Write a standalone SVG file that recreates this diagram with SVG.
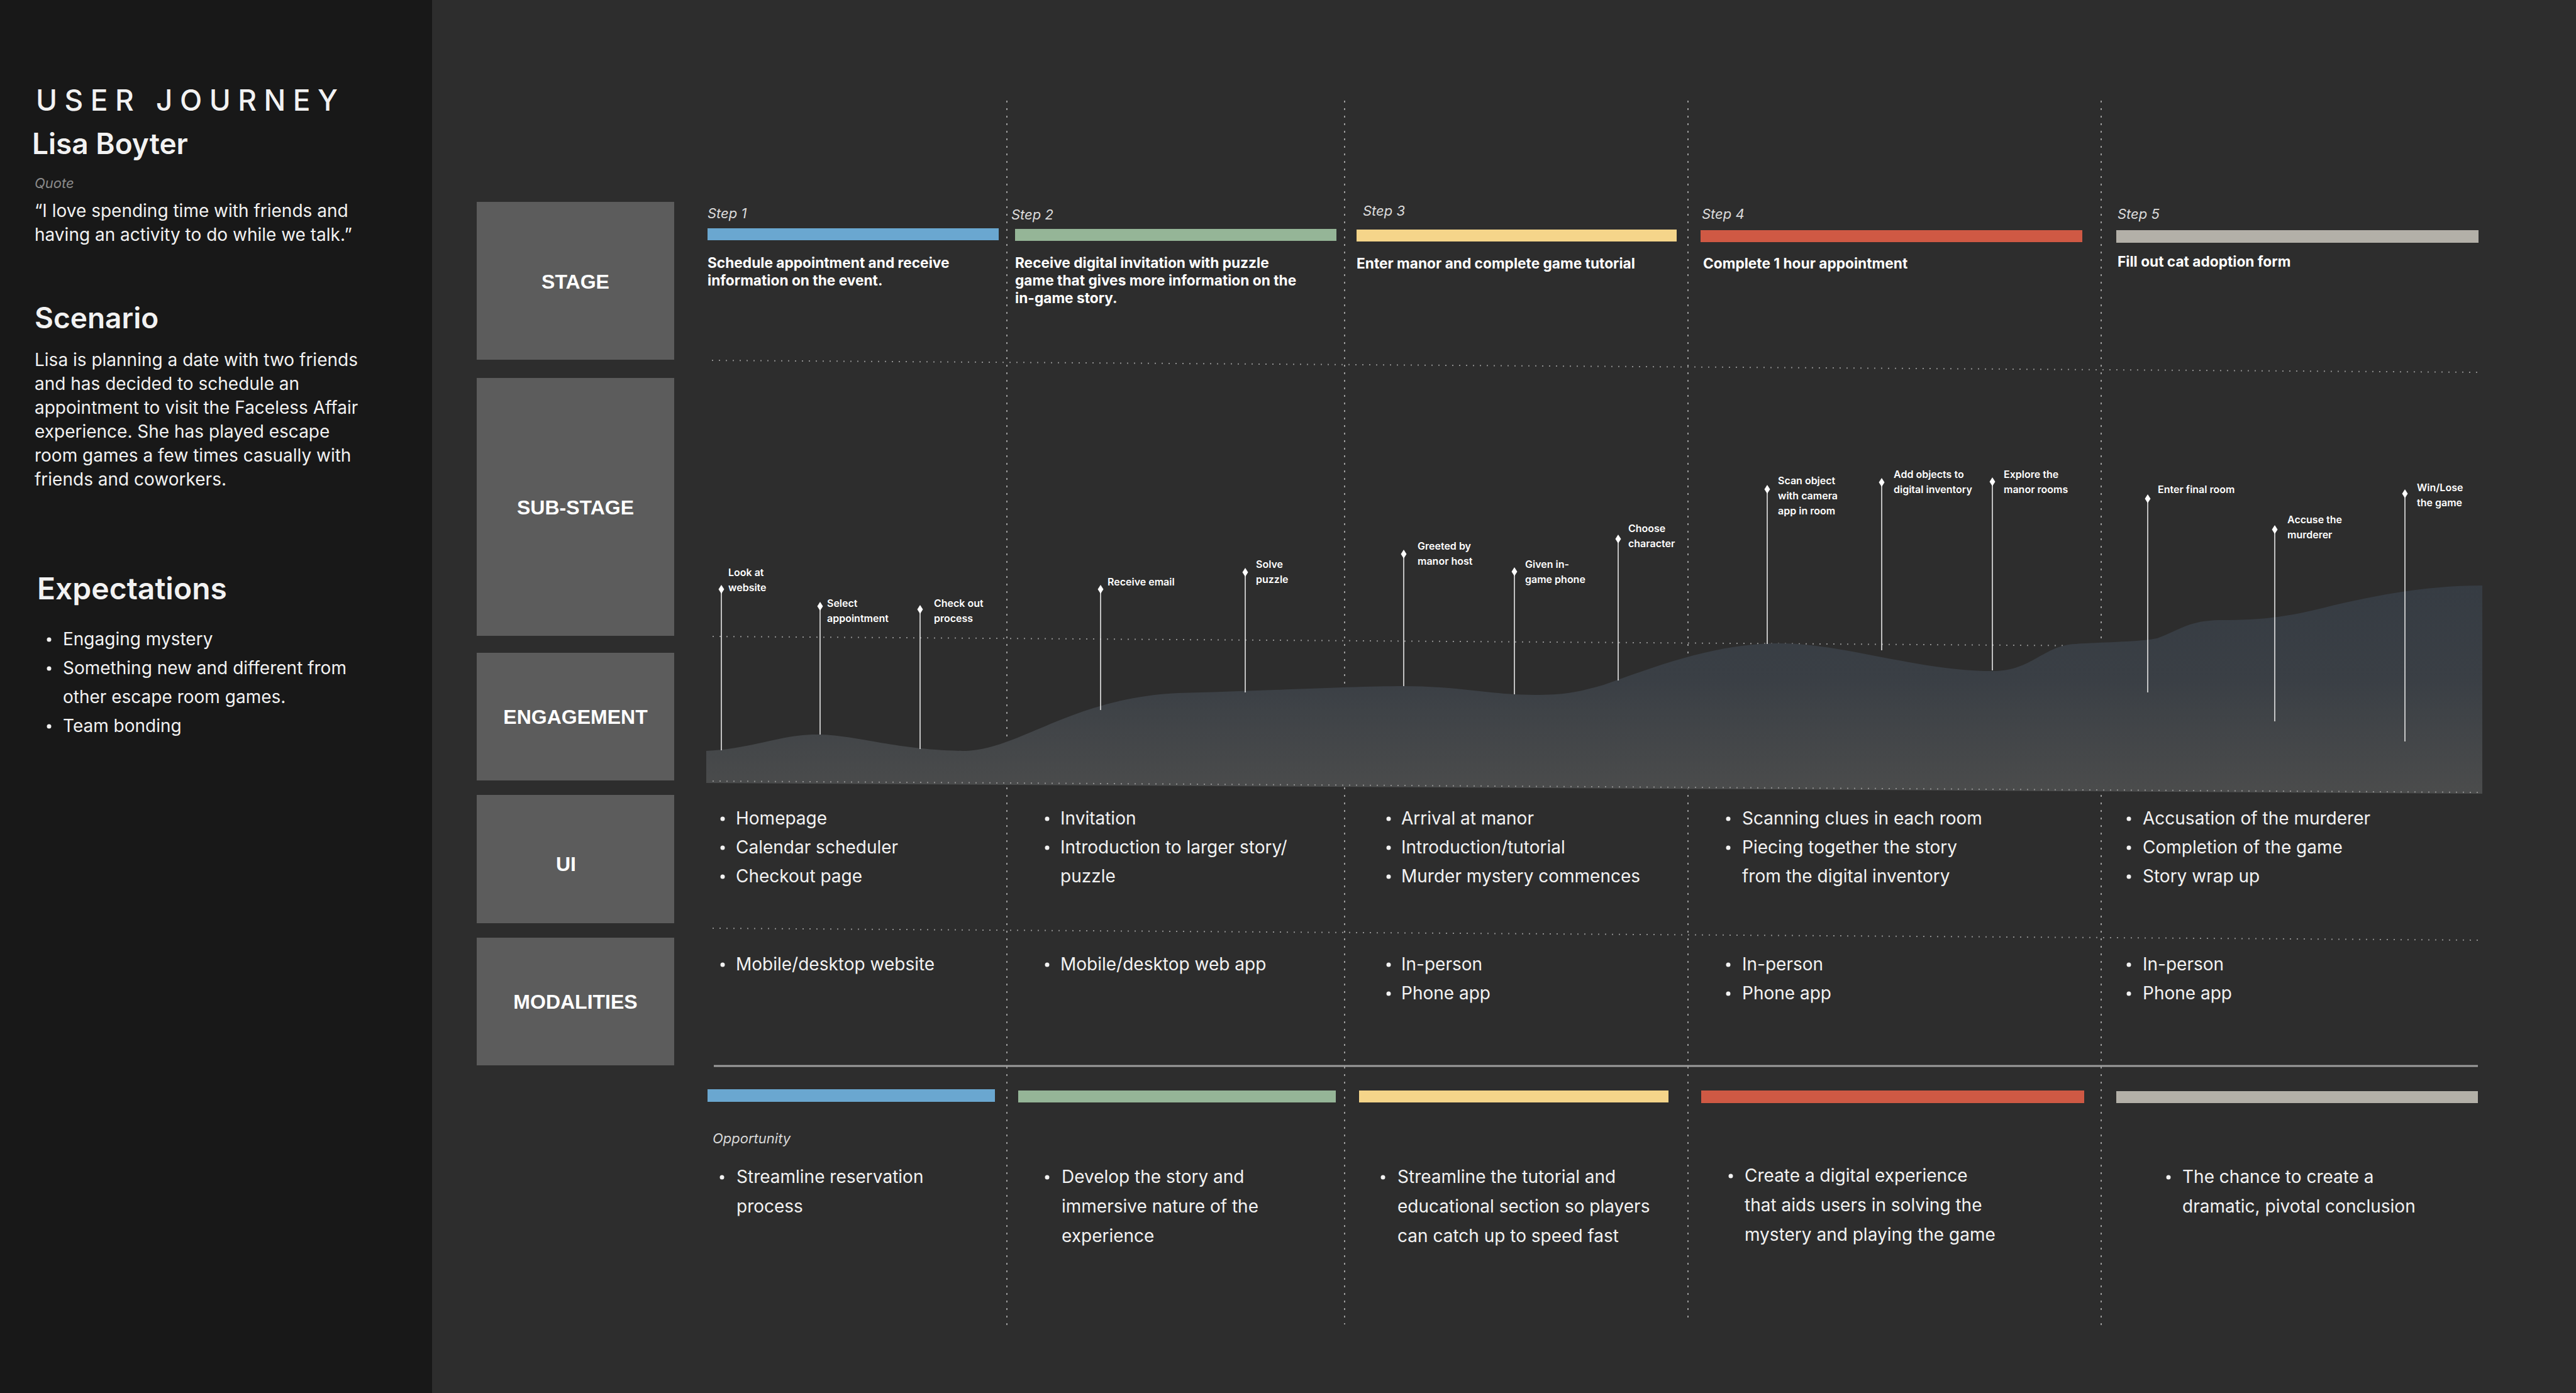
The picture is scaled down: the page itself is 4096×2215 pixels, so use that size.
<svg xmlns="http://www.w3.org/2000/svg" width="4096" height="2215" viewBox="0 0 4096 2215">
<style>
.t{font-family:Inter,"Noto Sans","Liberation Sans",sans-serif;fill:#f2f2f2}
.body{font-size:28px;font-weight:400}
.h{font-size:46px;font-weight:600}
.lab{font-family:"Liberation Sans",Arial,sans-serif;font-size:32px;font-weight:700;fill:#ffffff;text-anchor:middle}
.box{fill:#5c5c5c}
.step{font-size:22px;font-style:italic;font-weight:400;fill:#dcdcdc}
.desc{font-size:22.7px;font-weight:700;fill:#ffffff}
.pin{font-size:16px;font-weight:600;fill:#ffffff}
.pl{stroke:#e8e8e8;stroke-width:1.6;fill:none}
.dm{fill:#ffffff}
.vd{stroke:#9a9a9a;stroke-width:2;stroke-dasharray:3 9;fill:none}
.hd{stroke:#8f8f8f;stroke-width:2;stroke-dasharray:2 9;fill:none}
.bul{fill:#f2f2f2}
</style>
<defs>
<linearGradient id="eng" x1="0" y1="930" x2="0" y2="1262" gradientUnits="userSpaceOnUse">
<stop offset="0" stop-color="#363c43"/>
<stop offset="0.45" stop-color="#3a3f45"/>
<stop offset="1" stop-color="#4b4c4c"/>
</linearGradient>
<path id="dia" d="M0,-7 L4.5,0 L0,7 L-4.5,0 Z"/>
</defs>
<rect x="0" y="0" width="4096" height="2215" fill="#2d2d2d"/>
<rect x="0" y="0" width="687" height="2215" fill="#181818"/>

<g id="persona">
<text class="t" x="57" y="176" font-size="46" font-weight="500" textLength="480" lengthAdjust="spacing">USER JOURNEY</text>
<text class="t h" x="51" y="245">Lisa Boyter</text>
<text class="t" x="55" y="299" font-size="22" font-style="italic" style="fill:#8a8a8a">Quote</text>
<text class="t body" x="55" y="345">“I love spending time with friends and</text>
<text class="t body" x="55" y="383">having an activity to do while we talk.”</text>
</g>
<g id="scenario">
<text class="t h" x="55" y="522">Scenario</text>
<text class="t body" x="55" y="582">Lisa is planning a date with two friends</text>
<text class="t body" x="55" y="620">and has decided to schedule an</text>
<text class="t body" x="55" y="658">appointment to visit the Faceless Affair</text>
<text class="t body" x="55" y="696">experience. She has played escape</text>
<text class="t body" x="55" y="734">room games a few times casually with</text>
<text class="t body" x="55" y="772">friends and coworkers.</text>
</g>
<g id="expectations">
<text class="t" x="59" y="953" font-size="48" font-weight="600">Expectations</text>
<circle class="bul" cx="78" cy="1017" r="3.5"/>
<text class="t body" x="100" y="1026">Engaging mystery</text>
<circle class="bul" cx="78" cy="1063" r="3.5"/>
<text class="t body" x="100" y="1072">Something new and different from</text>
<text class="t body" x="100" y="1118">other escape room games.</text>
<circle class="bul" cx="78" cy="1155" r="3.5"/>
<text class="t body" x="100" y="1164">Team bonding</text>
</g>

<g id="row-labels">
<g id="label-stage"><rect class="box" x="758" y="321" width="314" height="251"/><text class="lab" x="915" y="459">STAGE</text></g>
<g id="label-substage"><rect class="box" x="758" y="601" width="314" height="410"/><text class="lab" x="915" y="818">SUB-STAGE</text></g>
<g id="label-engagement"><rect class="box" x="758" y="1038" width="314" height="203"/><text class="lab" x="915" y="1151">ENGAGEMENT</text></g>
<g id="label-ui"><rect class="box" x="758" y="1264" width="314" height="204"/><text class="lab" x="900" y="1385">UI</text></g>
<g id="label-modalities"><rect class="box" x="758" y="1491" width="314" height="203"/><text class="lab" x="915" y="1604">MODALITIES</text></g>
</g>

<g id="connectors">
<line class="vd" x1="1601" y1="160" x2="1601" y2="2112"/>
<line class="vd" x1="2138" y1="160" x2="2138" y2="2106"/>
<line class="vd" x1="2684" y1="160" x2="2684" y2="2102"/>
<line class="vd" x1="3341" y1="160" x2="3341" y2="2110"/>
<line class="hd" x1="1132" y1="573" x2="3942" y2="592"/>
<line class="hd" x1="1133" y1="1012" x2="3942" y2="1031"/>
<line class="hd" x1="1133" y1="1476" x2="3946" y2="1495"/>
<line x1="1135" y1="1695" x2="3940" y2="1695" stroke="#9c9c9c" stroke-width="3"/>
</g>

<g id="engagement-curve">
<path fill="url(#eng)" d="M1123,1194 C1200,1190 1240,1168 1298,1168 C1360,1168 1420,1192 1530,1194 C1620,1194 1700,1110 1874,1102 C1980,1100 2150,1091 2232,1091 C2320,1091 2370,1105 2440,1105 C2490,1105 2510,1100 2550,1089 C2620,1065 2720,1023 2830,1023 C2930,1023 3050,1067 3170,1067 C3230,1067 3250,1026 3300,1024 C3340,1021 3400,1021 3430,1015 C3470,1000 3480,987 3530,986 C3580,986 3620,984 3680,970 C3760,950 3850,931 3947,931 L3947,1262 L1123,1245 Z"/>
<line class="hd" x1="1133" y1="1242" x2="3946" y2="1260"/>
</g>

<g id="step1">
<text class="t step" x="1125" y="347">Step 1</text>
<rect x="1125" y="363" width="463" height="19" fill="#6aa7d0"/>
<text class="t desc" x="1125" y="426">Schedule appointment and receive</text>
<text class="t desc" x="1125" y="454">information on the event.</text>
</g>
<g id="step2">
<text class="t step" x="1608" y="349">Step 2</text>
<rect x="1614" y="364" width="511" height="19" fill="#95b597"/>
<text class="t desc" x="1614" y="426">Receive digital invitation with puzzle</text>
<text class="t desc" x="1614" y="454">game that gives more information on the</text>
<text class="t desc" x="1614" y="482">in-game story.</text>
</g>
<g id="step3">
<text class="t step" x="2167" y="343">Step 3</text>
<rect x="2157" y="365" width="509" height="19" fill="#f5d58a"/>
<text class="t desc" x="2157" y="427">Enter manor and complete game tutorial</text>
</g>
<g id="step4">
<text class="t step" x="2706" y="348">Step 4</text>
<rect x="2704" y="366" width="607" height="19" fill="#cf5944"/>
<text class="t desc" x="2708" y="427">Complete 1 hour appointment</text>
</g>
<g id="step5">
<text class="t step" x="3367" y="348">Step 5</text>
<rect x="3365" y="366" width="576" height="20" fill="#b3b0a8"/>
<text class="t desc" x="3367" y="424">Fill out cat adoption form</text>
</g>

<g id="substages">
<g id="pin-look"><line class="pl" x1="1147" y1="937" x2="1147" y2="1193"/><use href="#dia" class="dm" x="1147" y="937"/><text class="t pin" x="1158" y="916">Look at</text><text class="t pin" x="1158" y="940">website</text></g>
<g id="pin-select"><line class="pl" x1="1304" y1="964" x2="1304" y2="1168"/><use href="#dia" class="dm" x="1304" y="964"/><text class="t pin" x="1315" y="965">Select</text><text class="t pin" x="1315" y="989">appointment</text></g>
<g id="pin-checkout"><line class="pl" x1="1463" y1="969" x2="1463" y2="1191"/><use href="#dia" class="dm" x="1463" y="969"/><text class="t pin" x="1485" y="965">Check out</text><text class="t pin" x="1485" y="989">process</text></g>
<g id="pin-email"><line class="pl" x1="1750" y1="937" x2="1750" y2="1129"/><use href="#dia" class="dm" x="1750" y="937"/><text class="t pin" x="1761" y="931">Receive email</text></g>
<g id="pin-puzzle"><line class="pl" x1="1980" y1="910" x2="1980" y2="1101"/><use href="#dia" class="dm" x="1980" y="910"/><text class="t pin" x="1997" y="903">Solve</text><text class="t pin" x="1997" y="927">puzzle</text></g>
<g id="pin-greeted"><line class="pl" x1="2232" y1="881" x2="2232" y2="1091"/><use href="#dia" class="dm" x="2232" y="881"/><text class="t pin" x="2254" y="874">Greeted by</text><text class="t pin" x="2254" y="898">manor host</text></g>
<g id="pin-phone"><line class="pl" x1="2408" y1="909" x2="2408" y2="1104"/><use href="#dia" class="dm" x="2408" y="909"/><text class="t pin" x="2425" y="903">Given in-</text><text class="t pin" x="2425" y="927">game phone</text></g>
<g id="pin-choose"><line class="pl" x1="2573" y1="857" x2="2573" y2="1082"/><use href="#dia" class="dm" x="2573" y="857"/><text class="t pin" x="2589" y="846">Choose</text><text class="t pin" x="2589" y="870">character</text></g>
<g id="pin-scan"><line class="pl" x1="2810" y1="778" x2="2810" y2="1024"/><use href="#dia" class="dm" x="2810" y="778"/><text class="t pin" x="2827" y="770">Scan object</text><text class="t pin" x="2827" y="794">with camera</text><text class="t pin" x="2827" y="818">app in room</text></g>
<g id="pin-add"><line class="pl" x1="2992" y1="767" x2="2992" y2="1034"/><use href="#dia" class="dm" x="2992" y="767"/><text class="t pin" x="3011" y="760">Add objects to</text><text class="t pin" x="3011" y="784">digital inventory</text></g>
<g id="pin-explore"><line class="pl" x1="3168" y1="766" x2="3168" y2="1066"/><use href="#dia" class="dm" x="3168" y="766"/><text class="t pin" x="3186" y="760">Explore the</text><text class="t pin" x="3186" y="784">manor rooms</text></g>
<g id="pin-final"><line class="pl" x1="3415" y1="793" x2="3415" y2="1101"/><use href="#dia" class="dm" x="3415" y="793"/><text class="t pin" x="3431" y="784">Enter final room</text></g>
<g id="pin-accuse"><line class="pl" x1="3617" y1="842" x2="3617" y2="1147"/><use href="#dia" class="dm" x="3617" y="842"/><text class="t pin" x="3637" y="832">Accuse the</text><text class="t pin" x="3637" y="856">murderer</text></g>
<g id="pin-win"><line class="pl" x1="3824" y1="785" x2="3824" y2="1179"/><use href="#dia" class="dm" x="3824" y="785"/><text class="t pin" x="3843" y="781">Win/Lose</text><text class="t pin" x="3843" y="805">the game</text></g>
</g>

<g id="ui">
<g id="ui1"><circle class="bul" cx="1149" cy="1302" r="3.5"/><text class="t body" x="1170" y="1311">Homepage</text><circle class="bul" cx="1149" cy="1348" r="3.5"/><text class="t body" x="1170" y="1357">Calendar scheduler</text><circle class="bul" cx="1149" cy="1394" r="3.5"/><text class="t body" x="1170" y="1403">Checkout page</text></g>
<g id="ui2"><circle class="bul" cx="1665" cy="1302" r="3.5"/><text class="t body" x="1686" y="1311">Invitation</text><circle class="bul" cx="1665" cy="1348" r="3.5"/><text class="t body" x="1686" y="1357">Introduction to larger story/</text><text class="t body" x="1686" y="1403">puzzle</text></g>
<g id="ui3"><circle class="bul" cx="2208" cy="1302" r="3.5"/><text class="t body" x="2228" y="1311">Arrival at manor</text><circle class="bul" cx="2208" cy="1348" r="3.5"/><text class="t body" x="2228" y="1357">Introduction/tutorial</text><circle class="bul" cx="2208" cy="1394" r="3.5"/><text class="t body" x="2228" y="1403">Murder mystery commences</text></g>
<g id="ui4"><circle class="bul" cx="2748" cy="1302" r="3.5"/><text class="t body" x="2770" y="1311">Scanning clues in each room</text><circle class="bul" cx="2748" cy="1348" r="3.5"/><text class="t body" x="2770" y="1357">Piecing together the story</text><text class="t body" x="2770" y="1403">from the digital inventory</text></g>
<g id="ui5"><circle class="bul" cx="3385" cy="1302" r="3.5"/><text class="t body" x="3407" y="1311">Accusation of the murderer</text><circle class="bul" cx="3385" cy="1348" r="3.5"/><text class="t body" x="3407" y="1357">Completion of the game</text><circle class="bul" cx="3385" cy="1394" r="3.5"/><text class="t body" x="3407" y="1403">Story wrap up</text></g>
</g>

<g id="modalities">
<g id="mod1"><circle class="bul" cx="1149" cy="1534" r="3.5"/><text class="t body" x="1170" y="1543">Mobile/desktop website</text></g>
<g id="mod2"><circle class="bul" cx="1665" cy="1534" r="3.5"/><text class="t body" x="1686" y="1543">Mobile/desktop web app</text></g>
<g id="mod3"><circle class="bul" cx="2208" cy="1534" r="3.5"/><text class="t body" x="2228" y="1543">In-person</text><circle class="bul" cx="2208" cy="1580" r="3.5"/><text class="t body" x="2228" y="1589">Phone app</text></g>
<g id="mod4"><circle class="bul" cx="2748" cy="1534" r="3.5"/><text class="t body" x="2770" y="1543">In-person</text><circle class="bul" cx="2748" cy="1580" r="3.5"/><text class="t body" x="2770" y="1589">Phone app</text></g>
<g id="mod5"><circle class="bul" cx="3385" cy="1534" r="3.5"/><text class="t body" x="3407" y="1543">In-person</text><circle class="bul" cx="3385" cy="1580" r="3.5"/><text class="t body" x="3407" y="1589">Phone app</text></g>
</g>

<g id="opportunities">
<rect x="1125" y="1732" width="457" height="20" fill="#6aa7d0"/>
<rect x="1619" y="1734" width="505" height="19" fill="#95b597"/>
<rect x="2161" y="1734" width="492" height="19" fill="#f5d58a"/>
<rect x="2705" y="1734" width="609" height="20" fill="#cf5944"/>
<rect x="3365" y="1735" width="575" height="19" fill="#b3b0a8"/>
<text class="t" x="1133" y="1818" font-size="22" font-style="italic" style="fill:#d8d8d8">Opportunity</text>
<g id="opp1"><circle class="bul" cx="1148" cy="1872" r="3.5"/><text class="t body" x="1171" y="1881">Streamline reservation</text><text class="t body" x="1171" y="1928">process</text></g>
<g id="opp2"><circle class="bul" cx="1665" cy="1872" r="3.5"/><text class="t body" x="1688" y="1881">Develop the story and</text><text class="t body" x="1688" y="1928">immersive nature of the</text><text class="t body" x="1688" y="1975">experience</text></g>
<g id="opp3"><circle class="bul" cx="2199" cy="1872" r="3.5"/><text class="t body" x="2222" y="1881">Streamline the tutorial and</text><text class="t body" x="2222" y="1928">educational section so players</text><text class="t body" x="2222" y="1975">can catch up to speed fast</text></g>
<g id="opp4"><circle class="bul" cx="2752" cy="1870" r="3.5"/><text class="t body" x="2774" y="1879">Create a digital experience</text><text class="t body" x="2774" y="1926">that aids users in solving the</text><text class="t body" x="2774" y="1973">mystery and playing the game</text></g>
<g id="opp5"><circle class="bul" cx="3448" cy="1872" r="3.5"/><text class="t body" x="3470" y="1881">The chance to create a</text><text class="t body" x="3470" y="1928">dramatic, pivotal conclusion</text></g>
</g>
</svg>
